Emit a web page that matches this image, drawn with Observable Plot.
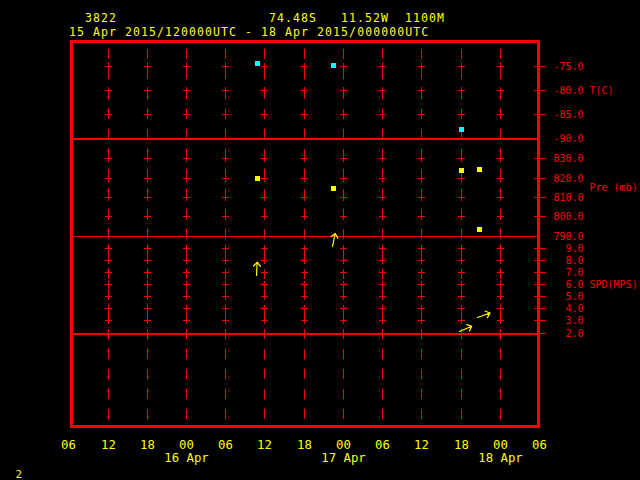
<!DOCTYPE html>
<html><head><meta charset="utf-8">
<script src="https://cdn.jsdelivr.net/npm/d3@7"></script>
<script src="https://cdn.jsdelivr.net/npm/@observablehq/plot@0.6"></script>
<style>
html,body{margin:0;padding:0;background:#000;}
#chart{position:relative;width:640px;height:480px;background:#000;overflow:hidden;font-family:"DejaVu Sans Mono",monospace;}
#chart svg{position:absolute;left:0;top:0;}
.txt{position:absolute;color:#ffff00;white-space:pre;font-family:"DejaVu Sans Mono",monospace;}
</style></head><body><div id="chart"></div>
<script>
// ---- header / footer text ----
const stationId = "3822";
const latText = "74.48S";
const lonText = "11.52W";
const elevText = "1100M";
const periodText = "15 Apr 2015/120000UTC - 18 Apr 2015/000000UTC";
const pageNumber = "2";

// ---- time axis ----
const timeDomain = ["2015-04-15T06:00Z", "2015-04-18T06:00Z"];
const xTickTimes = ["2015-04-15T06:00Z","2015-04-15T12:00Z","2015-04-15T18:00Z","2015-04-16T00:00Z",
  "2015-04-16T06:00Z","2015-04-16T12:00Z","2015-04-16T18:00Z","2015-04-17T00:00Z",
  "2015-04-17T06:00Z","2015-04-17T12:00Z","2015-04-17T18:00Z","2015-04-18T00:00Z","2015-04-18T06:00Z"];
const xTickLabels = ["06","12","18","00","06","12","18","00","06","12","18","00","06"];
const gridTimes = xTickTimes.slice(1, -1);
const dayTickTimes = ["2015-04-16T00:00Z","2015-04-17T00:00Z","2015-04-18T00:00Z"];
const dayTickLabels = ["16 Apr","17 Apr","18 Apr"];

// ---- panel axes ----
const tTicks = [-75, -80, -85, -90];
const pTicks = [830, 820, 810, 800, 790];
const sTicks = [9, 8, 7, 6, 5, 4, 3, 2];
const tLabel = "T(C)", pLabel = "Pre (mb)", sLabel = "SPD(MPS)";

// ---- observations ----
const tempTimes  = ["2015-04-16T10:50Z","2015-04-16T22:30Z","2015-04-17T18:00Z"];
const tempValues = [-74.3, -74.7, -88.1];

const presTimes  = ["2015-04-16T10:50Z","2015-04-16T22:30Z","2015-04-17T18:00Z","2015-04-17T20:45Z","2015-04-17T20:45Z"];
const presValues = [819.8, 814.6, 823.9, 824.4, 793.3];

const windTimes  = ["2015-04-16T10:45Z","2015-04-16T22:20Z","2015-04-17T17:50Z","2015-04-17T20:30Z"];
const windSpeeds = [6.8, 9.2, 2.1, 3.3];
const windDirs   = [3, 12, 67, 70];

// ---- build ----
const RED = "#ff0000", YEL = "#ffff00", CYAN = "#00ffff";
const FONT = "DejaVu Sans Mono";
const W = 640, H = 480;
const M = {marginLeft: 70.5, marginRight: 102, marginTop: 41.3, marginBottom: 53.7};
const D = s => new Date(s);
const xOpts = {type: "utc", domain: timeDomain.map(D), range: [68.4, 539], round: true};

const plusSym = {draw(c){c.moveTo(-3.5,0);c.lineTo(3.5,0);c.moveTo(0,-3.5);c.lineTo(0,3.5);}};
const edgeSym = {draw(c){c.moveTo(-6,0);c.lineTo(6,0);}};
const arrowShape = {draw(c, l){c.moveTo(0,0);c.lineTo(0,-l);c.moveTo(-3.5,4-l);c.lineTo(0,-l);c.lineTo(3.5,4-l);}};

const chart = document.getElementById("chart");

const base = Plot.plot({
  width: W, height: H, ...M,
  x: xOpts,
  style: {background: "transparent", color: YEL, fontFamily: FONT},
  marks: [
    Plot.ruleX(gridTimes.map(D), {stroke: RED, strokeWidth: 1, strokeDasharray: "10,10", strokeDashoffset: 12.3, shapeRendering: "crispEdges"}),
    Plot.frame({stroke: RED, strokeWidth: 3, shapeRendering: "crispEdges"}),
    Plot.axisX(xTickTimes.map(D), {tickSize: 0, tickPadding: 13.3, fontSize: 12.3, fill: YEL, label: null,
      tickFormat: d => xTickLabels[xTickTimes.map(D).findIndex(t => +t === +d)]}),
    Plot.axisX(dayTickTimes.map(D), {tickSize: 0, tickPadding: 26, fontSize: 12.3, fill: YEL, label: null,
      tickFormat: d => dayTickLabels[dayTickTimes.map(D).findIndex(t => +t === +d)]})
  ]
});
chart.appendChild(base);

function panel({domain, range, ticks, crossLevels, edgeLevels, boundary, boundaryWidth, label, labelY, data}) {
  const crosses = d3.cross(gridTimes.map(D), crossLevels);
  return Plot.plot({
    width: W, height: H, ...M,
    x: {...xOpts, axis: null},
    y: {domain, range, round: true},
    style: {background: "transparent", color: RED, fontFamily: FONT},
    marks: [
      Plot.dot(crosses, {x: d => d[0], y: d => d[1], symbol: plusSym, stroke: RED, fill: "none", strokeWidth: 1, shapeRendering: "crispEdges"}),
      Plot.dot(edgeLevels, {y: d => d, frameAnchor: "right", dx: 1, symbol: edgeSym, stroke: RED, fill: "none", strokeWidth: 1.3, shapeRendering: "crispEdges"}),
      Plot.ruleY([boundary], {stroke: RED, strokeWidth: boundaryWidth, shapeRendering: "crispEdges"}),
      Plot.axisY(ticks, {anchor: "right", tickSize: 0, tickPadding: 45, textAnchor: "end", fontSize: 10, fill: RED,
        label: null, tickFormat: d => d.toFixed(1)}),
      Plot.text([{label, y: labelY}], {text: "label", y: "y", frameAnchor: "right", dx: 51, textAnchor: "start", fontSize: 10, fill: RED}),
      ...data
    ]
  });
}

const tData = tempTimes.map((t, i) => ({time: D(t), value: tempValues[i]}));
const pData = presTimes.map((t, i) => ({time: D(t), value: presValues[i]}));
const wData = windTimes.map((t, i) => ({time: D(t), speed: windSpeeds[i], dir: windDirs[i]}));

chart.appendChild(panel({
  domain: [-90, -69.52], range: [138.3, 40], ticks: tTicks,
  crossLevels: [-75, -80, -85], edgeLevels: [-75, -80, -85], boundary: -90, boundaryWidth: 2,
  label: tLabel, labelY: -80,
  data: [Plot.dot(tData, {x: "time", y: "value", symbol: "square", r: 2.5, fill: CYAN, stroke: null, shapeRendering: "crispEdges"})]
}));

chart.appendChild(panel({
  domain: [790, 840.4], range: [235.5, 138.3], ticks: pTicks,
  crossLevels: [830, 820, 810, 800], edgeLevels: [830, 820, 810, 800], boundary: 790, boundaryWidth: 1,
  label: pLabel, labelY: 815.4,
  data: [Plot.dot(pData, {x: "time", y: "value", symbol: "square", r: 2.5, fill: YEL, stroke: null, shapeRendering: "crispEdges"})]
}));

chart.appendChild(panel({
  domain: [2, 10.06], range: [332.5, 235.5], ticks: sTicks,
  crossLevels: [9, 8, 7, 6, 5, 4, 3], edgeLevels: [9, 8, 7, 6, 5, 4, 3, 2], boundary: 2, boundaryWidth: 2,
  label: sLabel, labelY: 6,
  data: [Plot.vector(wData, {x: "time", y: "speed", rotate: "dir", length: 13.3, anchor: "start", shape: arrowShape, stroke: YEL, strokeWidth: 1.2})]
}));

// header & footer text (monospace columns: 8.0 px per character, from x = 69)
function addText(str, left, top, size, lh, ls) {
  const el = document.createElement("div");
  el.className = "txt";
  el.textContent = str;
  el.style.left = left + "px";
  el.style.top = top + "px";
  el.style.fontSize = size + "px";
  el.style.lineHeight = lh + "px";
  if (ls) el.style.letterSpacing = ls + "px";
  chart.appendChild(el);
}
const CW = 8.0;
// 11.5px DejaVu Sans Mono + 1.08px letter spacing = 8.0 px per character
addText(stationId, 69 + 2 * CW, 13.0, 11.5, 11, 1.08);
addText(latText, 69 + 25 * CW, 13.0, 11.5, 11, 1.08);
addText(lonText, 69 + 34 * CW, 13.0, 11.5, 11, 1.08);
addText(elevText, 69 + 42 * CW, 13.0, 11.5, 11, 1.08);
addText(periodText, 69, 26.7, 11.5, 11, 1.08);
addText(pageNumber, 15.5, 469.5, 11, 10);
</script></body></html>
